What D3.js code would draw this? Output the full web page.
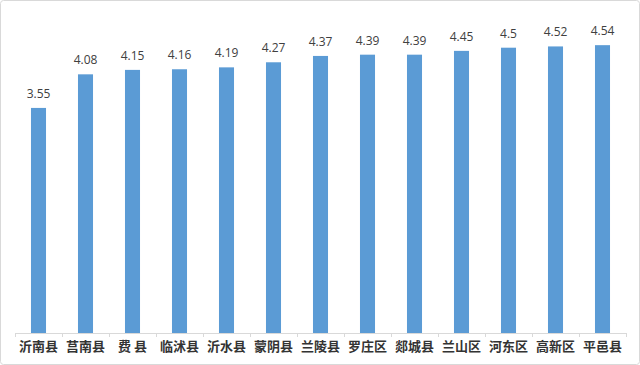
<!DOCTYPE html>
<html><head><meta charset="utf-8">
<script src="https://cdn.jsdelivr.net/npm/d3@7"></script>
<style>html,body{margin:0;padding:0;background:#fff;}svg{display:block;}</style>
</head><body>
<svg id="c" width="640" height="365"></svg>
<script>
const categories = ["沂南县","莒南县","费 县","临沭县","沂水县","蒙阴县","兰陵县","罗庄区","郯城县","兰山区","河东区","高新区","平邑县"];
const values = [3.55,4.08,4.15,4.16,4.19,4.27,4.37,4.39,4.39,4.45,4.5,4.52,4.54];
const valueLabels = ["3.55","4.08","4.15","4.16","4.19","4.27","4.37","4.39","4.39","4.45","4.5","4.52","4.54"];

(function(){
const svg = d3.select("#c");
const W = 640, H = 365;
svg.append("rect").attr("x",0.5).attr("y",0.5).attr("width",W-1).attr("height",H-1)
  .attr("rx",3).attr("fill","#fff").attr("stroke","#d9d9d9");

const pLeft = 15, pRight = 626, base = 333, pTop = 16;
const x = d3.scaleBand().domain(categories).range([pLeft, pRight]).paddingInner(0.68).paddingOuter(0.34);
const y = d3.scaleLinear().domain([0,5]).range([base, pTop]);

svg.append("g").selectAll("rect").data(values).join("rect")
  .attr("x",(d,i)=>x(categories[i]))
  .attr("y",d=>y(d))
  .attr("width",x.bandwidth())
  .attr("height",d=>base-y(d))
  .attr("fill","#5b9bd5");

svg.append("g").selectAll("text").data(values).join("text")
  .attr("x",(d,i)=>x(categories[i])+x.bandwidth()/2)
  .attr("y",d=>y(d)-10)
  .attr("text-anchor","middle")
  .attr("font-family","Open Sans, Liberation Sans, sans-serif")
  .attr("font-size",12)
  .attr("fill","#404040")
  .text((d,i)=>valueLabels[i]);

const ax = svg.append("g");
ax.append("line").attr("x1",pLeft).attr("x2",pRight).attr("y1",base+0.5).attr("y2",base+0.5)
  .attr("stroke","#d9d9d9");
const tickXs = d3.range(categories.length+1).map(i=>pLeft + i*(pRight-pLeft)/categories.length);
ax.selectAll("line.t").data(tickXs).join("line").attr("class","t")
  .attr("x1",d=>Math.round(d)+0.5).attr("x2",d=>Math.round(d)+0.5)
  .attr("y1",base).attr("y2",base+4).attr("stroke","#d9d9d9");

ax.selectAll("text").data(categories).join("text")
  .attr("x",d=>x(d)+x.bandwidth()/2)
  .attr("y",351)
  .attr("text-anchor","middle")
  .attr("font-family","Noto Sans CJK SC, sans-serif")
  .attr("font-weight","bold")
  .attr("font-size",13)
  .attr("fill","#333")
  .style("white-space","pre")
  .text(d=>d);
})();
</script>
</body></html>
